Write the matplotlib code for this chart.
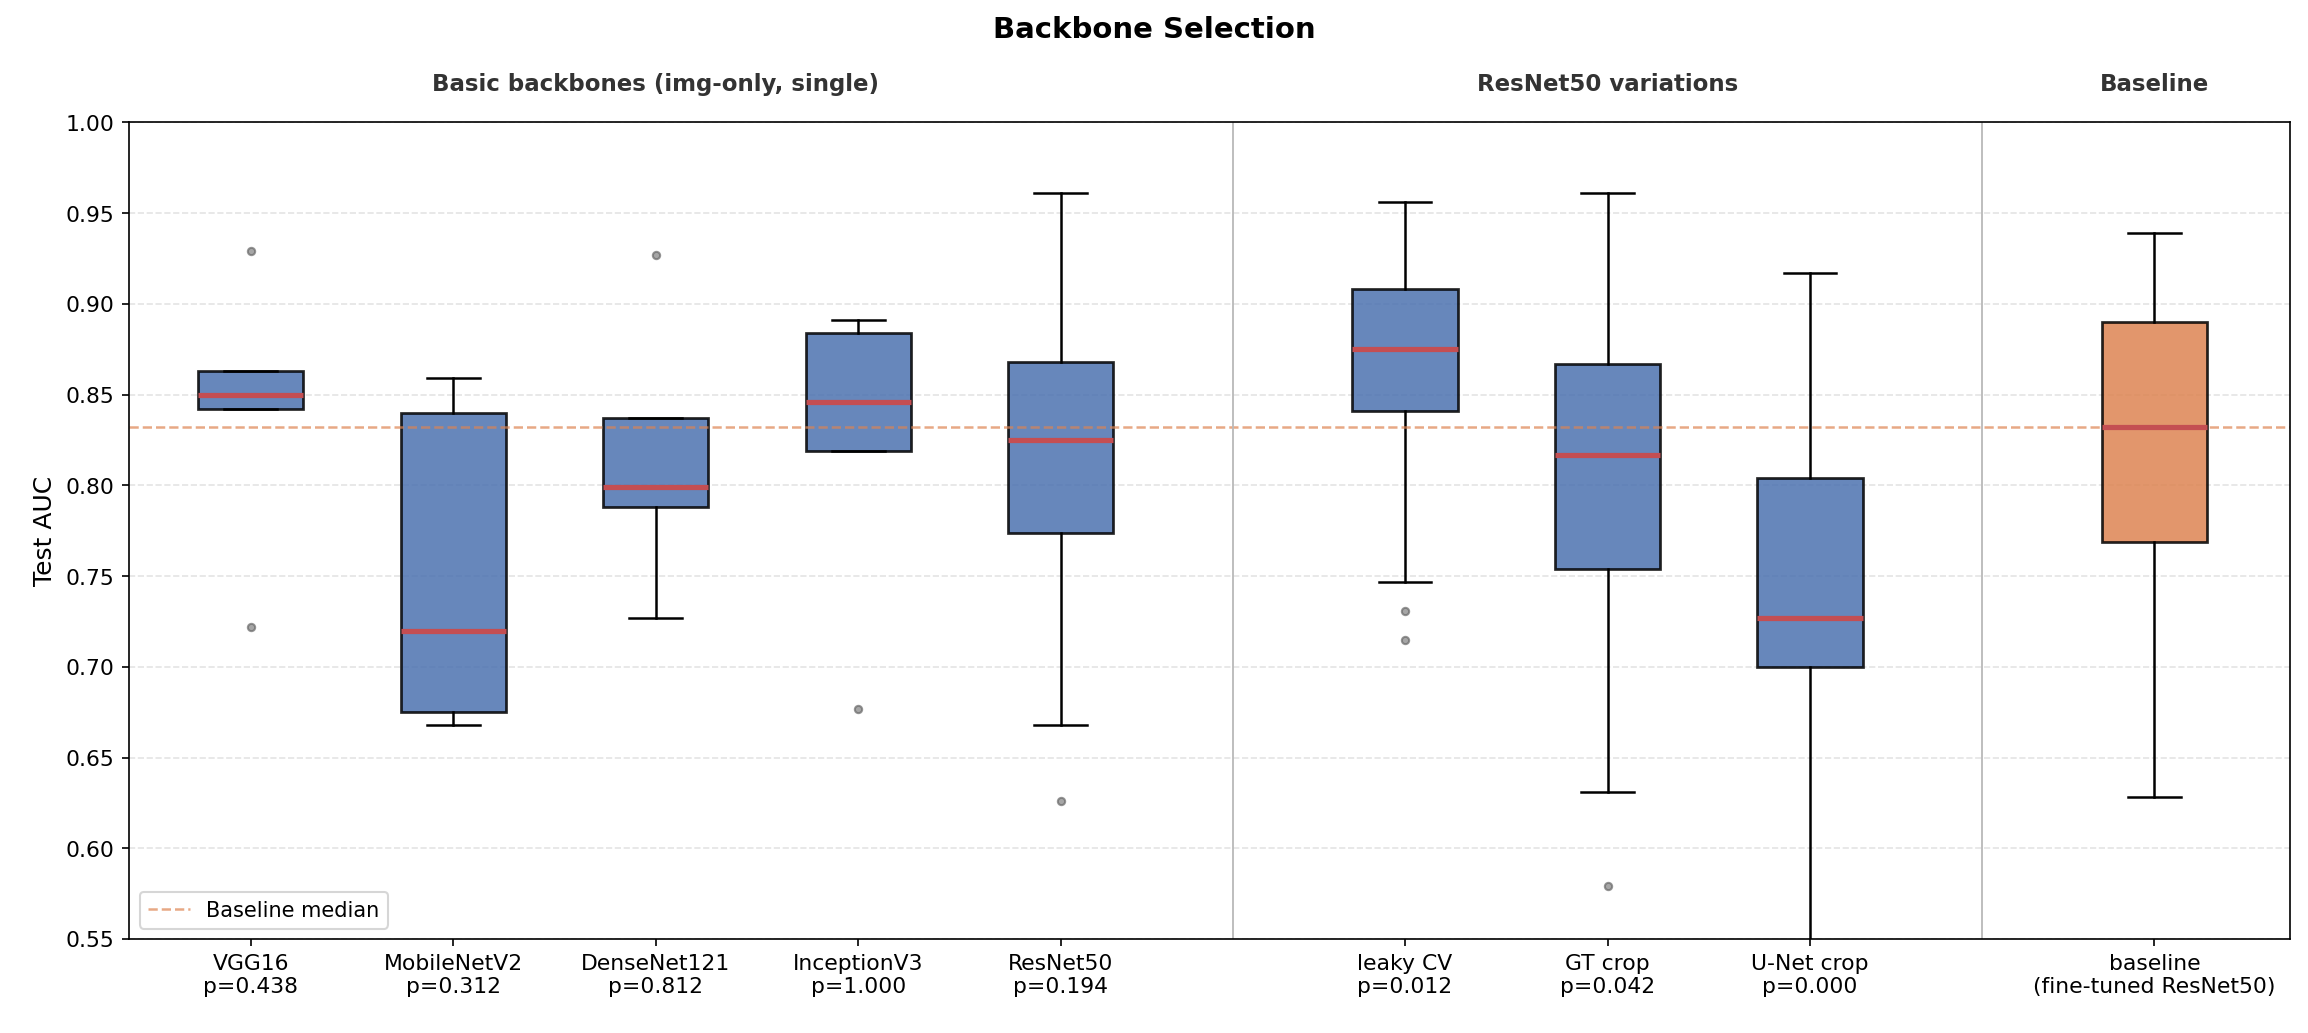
import numpy as np
import matplotlib.pyplot as plt

names = ["VGG16", "MobileNetV2", "DenseNet121", "InceptionV3", "ResNet50",
         "leaky CV", "GT crop", "U-Net crop", "baseline"]
pvals = ["p=0.438", "p=0.312", "p=0.812", "p=1.000", "p=0.194",
         "p=0.012", "p=0.042", "p=0.000", "(fine-tuned ResNet50)"]
q1 = [0.842, 0.675, 0.788, 0.819, 0.774, 0.841, 0.754, 0.700, 0.769]
med = [0.850, 0.720, 0.799, 0.846, 0.825, 0.875, 0.817, 0.727, 0.832]
q3 = [0.863, 0.840, 0.837, 0.884, 0.868, 0.908, 0.867, 0.804, 0.890]
whislo = [0.842, 0.668, 0.727, 0.819, 0.668, 0.747, 0.631, 0.520, 0.628]
whishi = [0.863, 0.859, 0.837, 0.891, 0.961, 0.956, 0.961, 0.917, 0.939]
fliers = [[0.929, 0.722], [], [0.927], [0.677], [0.626],
          [0.731, 0.715], [0.579], [], []]
positions = [0, 1, 2, 3, 4, 5.7, 6.7, 7.7, 9.4]
baseline_median = 0.832

stats = []
for i in range(len(names)):
    stats.append(dict(q1=q1[i], med=med[i], q3=q3[i], whislo=whislo[i],
                      whishi=whishi[i], fliers=fliers[i]))

fig, ax = plt.subplots(figsize=(15.39, 6.89), dpi=150)
bp = ax.bxp(stats, positions=positions, widths=0.52, patch_artist=True,
            boxprops=dict(linewidth=1.3, edgecolor="black"),
            medianprops=dict(color="#C44E52", linewidth=2.5),
            whiskerprops=dict(linewidth=1.2), capprops=dict(linewidth=1.2),
            flierprops=dict(marker="o", markersize=3.5, markerfacecolor="gray",
                            markeredgecolor="dimgray", alpha=0.7))
for i, box in enumerate(bp["boxes"]):
    box.set_facecolor("#DD8452" if i == 8 else "#4C72B0")
    box.set_alpha(0.85)
    box.set_edgecolor("black")

ax.axhline(baseline_median, color="#DD8452", ls="--", lw=1.2, alpha=0.7,
           label="Baseline median")
for x in [4.85, 8.55]:
    ax.axvline(x, color="#bbbbbb", lw=0.9)

ax.set_xlim(-0.6, 10.07)
ax.set_ylim(0.55, 1.0)
ax.set_yticks(np.arange(0.55, 1.001, 0.05))
ax.yaxis.grid(True, ls="--", alpha=0.35)
ax.set_xticks(positions)
ax.set_xticklabels([f"{n}\n{p}" for n, p in zip(names, pvals)], fontsize=10.5)
ax.tick_params(axis="y", labelsize=10.5)
ax.set_ylabel("Test AUC", fontsize=12)
ax.legend(loc="lower left", fontsize=10)

for x, t in [(2, "Basic backbones (img-only, single)"), (6.7, "ResNet50 variations"),
             (9.4, "Baseline")]:
    ax.text(x, 1.015, t, ha="center", va="bottom", fontsize=11,
            fontweight="bold", color="#333333")
fig.suptitle("Backbone Selection", fontsize=14, fontweight="bold", y=0.985)
fig.subplots_adjust(left=0.056, right=0.992, top=0.881, bottom=0.091)
fig.savefig("out.png")
